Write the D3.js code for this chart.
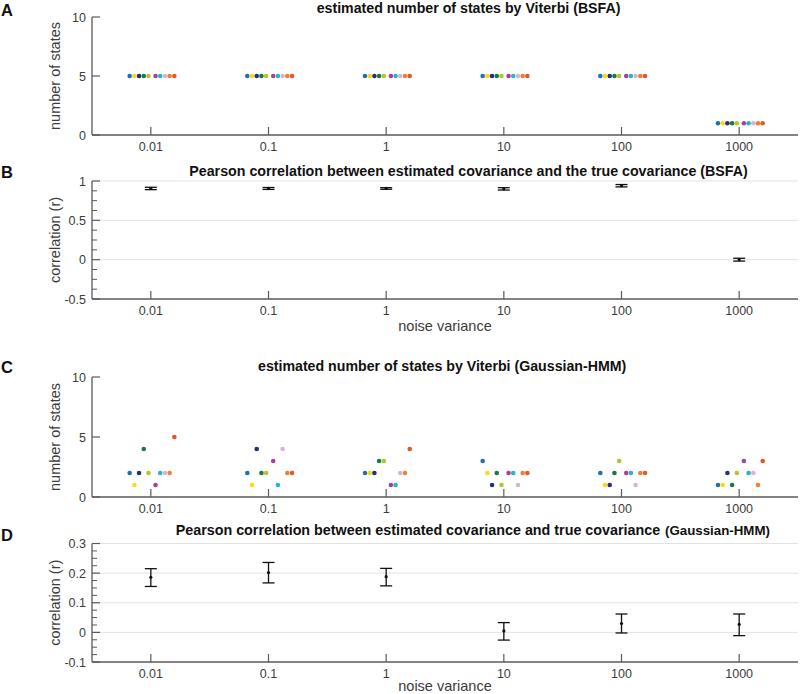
<!DOCTYPE html>
<html><head><meta charset="utf-8">
<script src="https://cdn.jsdelivr.net/npm/d3@7"></script>
<style>
body{margin:0;background:#fff;}
text{font-family:"Liberation Sans",Arial,sans-serif;}
</style></head>
<body><svg id="c" width="800" height="694"></svg>
<script>
// ---- data ----
const noiseLabels = ["0.01","0.1","1","10","100","1000"];
const seriesColors = ["#1f6fb8","#f7dc14","#25307a","#1a7a3e","#b4c42e","#a5409c","#25b6c6","#d6b4d6","#ee8030","#e8542b"];
const jitter = [-0.18,-0.14,-0.10,-0.06,-0.02,0.04,0.08,0.12,0.16,0.20]; // category units
// panel A: states per series, per noise level
const statesBSFA = [
  [5,5,5,5,5,5,5,5,5,5],
  [5,5,5,5,5,5,5,5,5,5],
  [5,5,5,5,5,5,5,5,5,5],
  [5,5,5,5,5,5,5,5,5,5],
  [5,5,5,5,5,5,5,5,5,5],
  [1,1,1,1,1,1,1,1,1,1]
];
// panel B
const corrBSFA = [0.905,0.905,0.905,0.900,0.940,0.000];
const corrBSFALo = [0.890,0.893,0.895,0.885,0.925,-0.018];
const corrBSFAHi = [0.920,0.917,0.915,0.915,0.955,0.018];
// panel C
const statesHMM = [
  [2,1,2,4,2,1,2,2,2,5],
  [2,1,4,2,2,3,1,4,2,2],
  [2,2,2,3,3,1,1,2,2,4],
  [3,2,1,2,1,2,2,1,2,2],
  [2,1,1,2,3,2,2,1,2,2],
  [1,1,2,1,2,3,2,2,1,3]
];
// panel D
const corrHMM = [0.186,0.202,0.188,0.005,0.030,0.027];
const corrHMMLo = [0.155,0.167,0.157,-0.026,-0.002,-0.011];
const corrHMMHi = [0.215,0.236,0.216,0.033,0.062,0.062];

const yTicksStates = [0,5,10];
const yTicksB = [-0.5,0,0.5,1];
const yTicksD = [-0.1,0,0.1,0.2,0.3];

// ---- drawing ----
const svg = d3.select("#c");
const L = 92, R = 798;
const axisCol = "#5a5a5a", textCol = "#3c3c3c";
const x = d3.scalePoint().domain(noiseLabels).range([L, R]).padding(0.5);

function frame(y, majors, opts) {
  const g = svg.append("g");
  const [y0, y1] = y.range();
  if (opts.grid) {
    g.selectAll(".grid").data(majors.filter(v => v !== y.domain()[0])).enter().append("line")
      .attr("x1", L).attr("x2", R).attr("y1", d => y(d)).attr("y2", d => y(d))
      .attr("stroke", "#e3e3e3").attr("stroke-width", 1);
  }
  if (opts.minor) {
    const mins = [];
    for (let i = 0; i < majors.length - 1; i++) {
      const a = majors[i], b = majors[i+1];
      for (let k = 1; k < 4; k++) mins.push(a + (b - a) * k / 4);
    }
    g.selectAll(".mn").data(mins).enter().append("line")
      .attr("x1", L).attr("x2", L + 5).attr("y1", d => y(d)).attr("y2", d => y(d))
      .attr("stroke", axisCol).attr("stroke-width", 1);
  }
  g.selectAll(".mj").data(majors).enter().append("line")
    .attr("x1", L).attr("x2", L + 8).attr("y1", d => y(d)).attr("y2", d => y(d))
    .attr("stroke", axisCol).attr("stroke-width", 1.2);
  g.selectAll(".yl").data(majors).enter().append("text")
    .attr("x", 86).attr("y", d => y(d) + 4.5).attr("text-anchor", "end")
    .attr("font-size", 12.5).attr("fill", textCol).text(d => d);
  g.append("line").attr("x1", L).attr("x2", L).attr("y1", y0).attr("y2", y1)
    .attr("stroke", axisCol).attr("stroke-width", 1.3);
  g.append("line").attr("x1", L).attr("x2", R).attr("y1", y0).attr("y2", y0)
    .attr("stroke", axisCol).attr("stroke-width", 1.3);
  g.selectAll(".xt").data(noiseLabels).enter().append("line")
    .attr("x1", d => x(d)).attr("x2", d => x(d)).attr("y1", y0).attr("y2", y0 - 8)
    .attr("stroke", axisCol).attr("stroke-width", 1.2);
  g.selectAll(".xl").data(noiseLabels).enter().append("text")
    .attr("x", d => x(d)).attr("y", y0 + 16).attr("text-anchor", "middle")
    .attr("font-size", 12.5).attr("fill", textCol).text(d => d);
  g.append("text").attr("transform", `translate(${opts.ylx},${(y0 + y1) / 2}) rotate(-90)`)
    .attr("text-anchor", "middle").attr("font-size", 14.5).attr("fill", textCol).text(opts.ylabel);
  if (opts.xlabel) {
    g.append("text").attr("x", (L + R) / 2).attr("y", opts.xly).attr("text-anchor", "middle")
      .attr("font-size", 14.5).attr("fill", textCol).text(opts.xlabel);
  }
  svg.append("text").attr("x", 1).attr("y", opts.letterY).attr("font-size", 16.5)
    .attr("font-weight", "bold").attr("fill", "#111").text(opts.letter);
  return g;
}

// place a bold text piece starting at x0 and fitted to width w; returns font size
function fitText(str, x0, yb, w, size) {
  const t = svg.append("text").attr("x", x0).attr("y", yb).attr("font-weight", "bold")
    .attr("fill", "#111").attr("font-size", 12).text(str);
  let fs = size;
  if (w) {
    const m = t.node().getComputedTextLength();
    fs = 12 * w / m;
  }
  t.attr("font-size", fs);
  return fs;
}

function dots(y, data) {
  const pts = [];
  data.forEach((row, ci) => row.forEach((v, si) => pts.push({c: noiseLabels[ci], s: si, v})));
  svg.append("g").selectAll("circle").data(pts).enter().append("circle")
    .attr("cx", d => x(d.c) + jitter[d.s] * x.step())
    .attr("cy", d => y(d.v)).attr("r", 2.3)
    .attr("fill", d => seriesColors[d.s]);
}

function errbars(y, m, lo, hi) {
  const g = svg.append("g");
  const d = noiseLabels.map((c, i) => ({c, m: m[i], lo: lo[i], hi: hi[i]}));
  const cap = 6;
  g.selectAll(".v").data(d).enter().append("line")
    .attr("x1", e => x(e.c)).attr("x2", e => x(e.c)).attr("y1", e => y(e.lo)).attr("y2", e => y(e.hi))
    .attr("stroke", "#111").attr("stroke-width", 1.3);
  ["lo","hi"].forEach(k => {
    g.selectAll(".c" + k).data(d).enter().append("line")
      .attr("x1", e => x(e.c) - cap).attr("x2", e => x(e.c) + cap)
      .attr("y1", e => y(e[k])).attr("y2", e => y(e[k]))
      .attr("stroke", "#111").attr("stroke-width", 1.3);
  });
  g.selectAll("circle").data(d).enter().append("circle")
    .attr("cx", e => x(e.c)).attr("cy", e => y(e.m)).attr("r", 1.6).attr("fill", "#111");
}

// Panel A
const yA = d3.scaleLinear().domain([0, 10]).range([135, 17]);
frame(yA, yTicksStates, {ylabel: "number of states", ylx: 60, letter: "A", letterY: 15.5});
const titleSize = fitText("estimated number of states by Viterbi (BSFA)", 316.7, 12.5, 304);
dots(yA, statesBSFA);

// Panel B
const yB = d3.scaleLinear().domain([-0.5, 1]).range([299, 181]);
frame(yB, yTicksB, {ylabel: "correlation (r)", ylx: 60, letter: "B", letterY: 178, grid: true, minor: true,
  xlabel: "noise variance", xly: 331});
fitText("Pearson correlation between estimated covariance and the true covariance (BSFA)", 189.3, 176, 559);
errbars(yB, corrBSFA, corrBSFALo, corrBSFAHi);

// Panel C
const yC = d3.scaleLinear().domain([0, 10]).range([497, 377]);
frame(yC, yTicksStates, {ylabel: "number of states", ylx: 60, letter: "C", letterY: 373});
fitText("estimated number of states by Viterbi (Gaussian-HMM)", 258, 371, null, titleSize);
dots(yC, statesHMM);

// Panel D
const yD = d3.scaleLinear().domain([-0.1, 0.3]).range([662, 543.5]);
frame(yD, yTicksD, {ylabel: "correlation (r)", ylx: 60, letter: "D", letterY: 541, grid: true, minor: true,
  xlabel: "noise variance", xly: 691});
fitText("Pearson correlation between estimated covariance and true covariance", 175.7, 535, 485);
fitText("(Gaussian-HMM)", 665, 535, 105);
errbars(yD, corrHMM, corrHMMLo, corrHMMHi);
</script></body></html>
